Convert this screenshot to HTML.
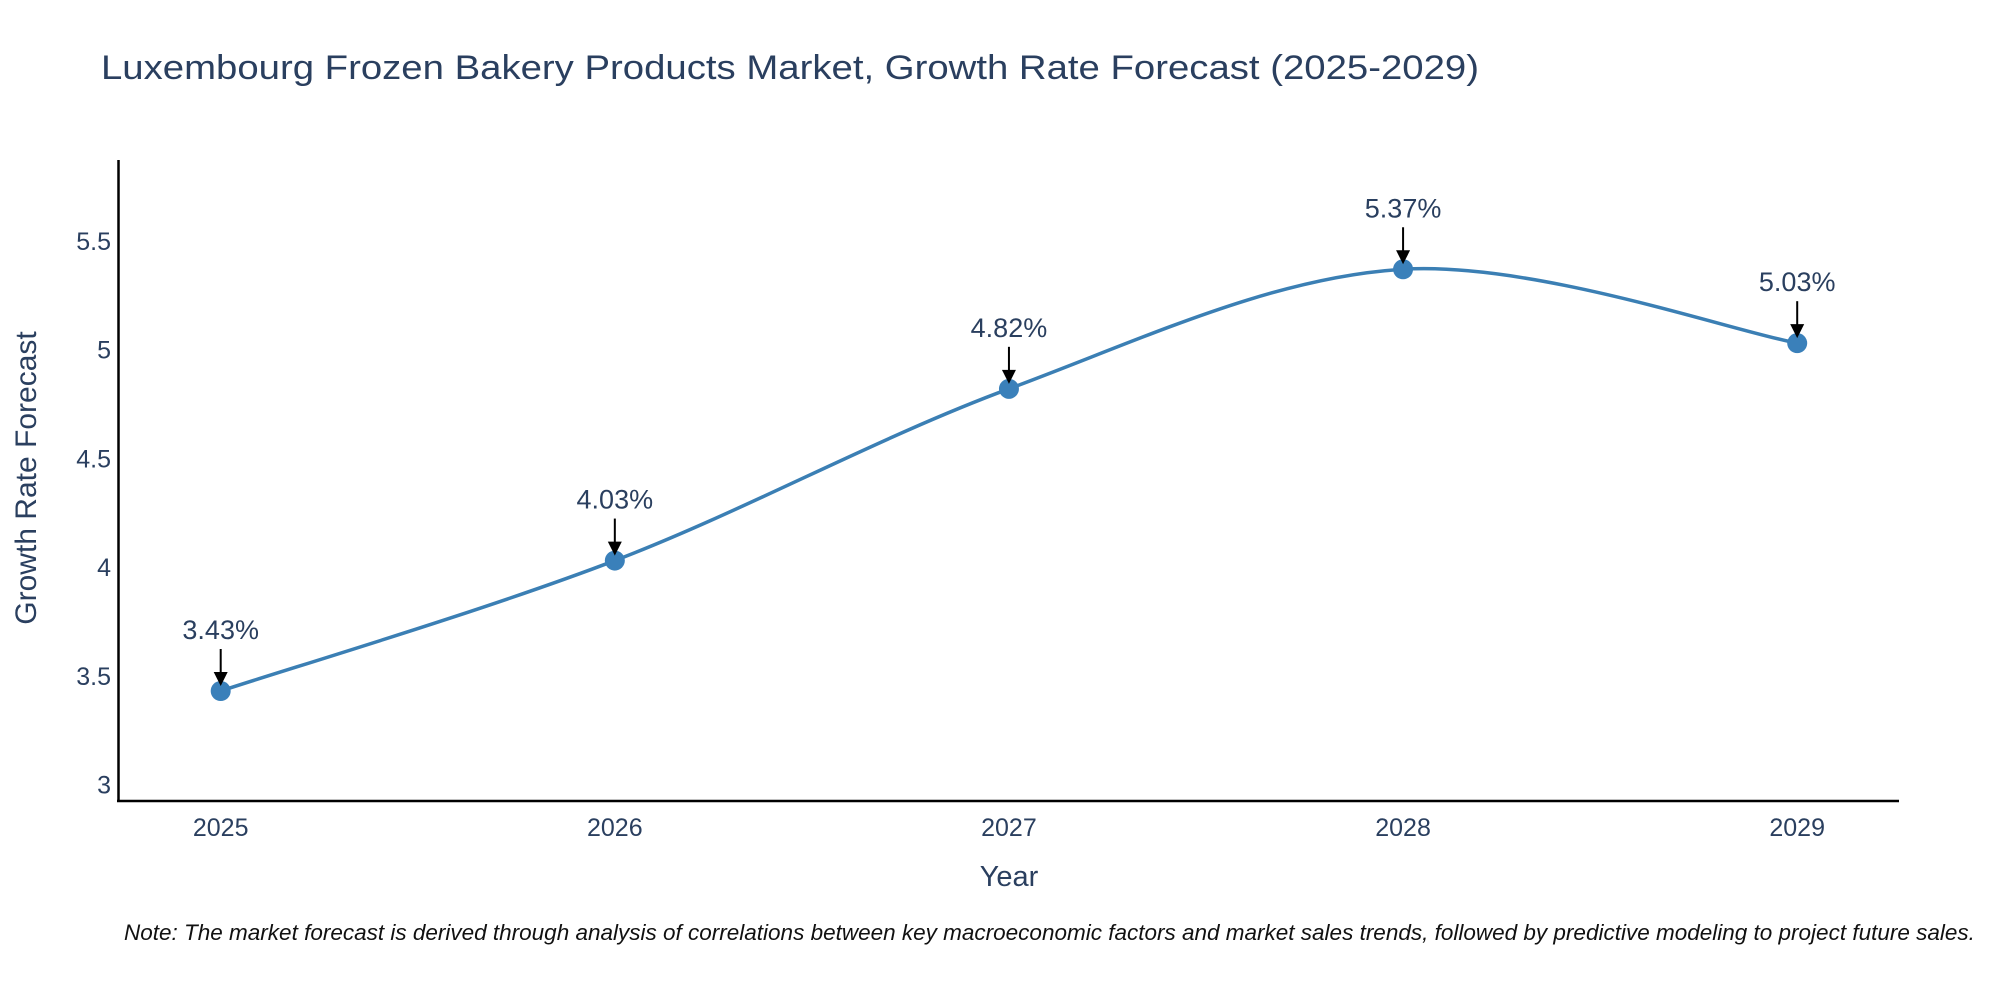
<!DOCTYPE html>
<html><head><meta charset="utf-8"><style>
html,body{margin:0;padding:0;background:#fff}
svg{display:block;font-family:"Liberation Sans",sans-serif}
</style></head><body>
<svg id="chart" width="2000" height="1000" viewBox="0 0 2000 1000">
<rect width="2000" height="1000" fill="#fff"/>
<text x="101" y="79" font-size="34" fill="#2a3f5f" textLength="1378" lengthAdjust="spacingAndGlyphs">Luxembourg Frozen Bakery Products Market, Growth Rate Forecast (2025-2029)</text>
<g id="yticks"></g>
<g id="xticks"></g>
<path id="series-line" fill="none" stroke="#3b7fb4" stroke-width="3.5"/>
<g id="points"></g>
<g id="annots"></g>
<line x1="118.5" y1="160" x2="118.5" y2="802" stroke="#000" stroke-width="2.5"/>
<line x1="117" y1="801" x2="1899" y2="801" stroke="#000" stroke-width="2.5"/>
<text x="1009" y="886" font-size="29" fill="#2a3f5f" text-anchor="middle">Year</text>
<text x="0" y="0" font-size="30" fill="#2a3f5f" text-anchor="middle" transform="translate(36,478) rotate(-90)">Growth Rate Forecast</text>
<text x="124" y="940" font-size="22.5" font-style="italic" fill="#111">Note: The market forecast is derived through analysis of correlations between key macroeconomic factors and market sales trends, followed by predictive modeling to project future sales.</text>
</svg>
<script>
const years = [2025, 2026, 2027, 2028, 2029];
const values = [3.43, 4.03, 4.82, 5.37, 5.03];
const labels = ["3.43%", "4.03%", "4.82%", "5.37%", "5.03%"];
const yTickValues = [3, 3.5, 4, 4.5, 5, 5.5];
const yTickLabels = ["3", "3.5", "4", "4.5", "5", "5.5"];

const NS = "http://www.w3.org/2000/svg";
const xMin = 2025, xMax = 2029, pxL = 220.7, pxR = 1797.2;
const yMin = 2.924, yMax = 5.868, pyB = 801, pyT = 161;
function xs(v){ return pxL + (v - xMin) / (xMax - xMin) * (pxR - pxL); }
function ys(v){ return pyB - (v - yMin) / (yMax - yMin) * (pyB - pyT); }
function mk(tag, attrs, parent){ const e = document.createElementNS(NS, tag); for (const k in attrs) e.setAttribute(k, attrs[k]); parent.appendChild(e); return e; }

const yt = document.getElementById('yticks');
yTickValues.forEach((v, i) => {
  const t = mk('text', {x: 111, y: ys(v) + 9, 'font-size': 25, fill: '#2a3f5f', 'text-anchor': 'end'}, yt);
  
  
  t.textContent = yTickLabels[i];
});
const xt = document.getElementById('xticks');
years.forEach(y => {
  const t = mk('text', {x: xs(y), y: 836, 'font-size': 25, fill: '#2a3f5f', 'text-anchor': 'middle'}, xt);
  
  
  t.textContent = String(y);
});

const pts = years.map((y, i) => [xs(y), ys(values[i])]);
let d = 'M' + pts[0][0] + ',' + pts[0][1];
for (let i = 0; i < pts.length - 1; i++) {
  const p0 = pts[Math.max(0, i - 1)], p1 = pts[i], p2 = pts[i + 1], p3 = pts[Math.min(pts.length - 1, i + 2)];
  const c1 = [p1[0] + (p2[0] - p0[0]) / 6, p1[1] + (p2[1] - p0[1]) / 6];
  const c2 = [p2[0] - (p3[0] - p1[0]) / 6, p2[1] - (p3[1] - p1[1]) / 6];
  d += ' C' + c1[0] + ',' + c1[1] + ' ' + c2[0] + ',' + c2[1] + ' ' + p2[0] + ',' + p2[1];
}
document.getElementById('series-line').setAttribute('d', d);

const pg = document.getElementById('points');
const ag = document.getElementById('annots');
pts.forEach((p, i) => {
  const c = mk('circle', {cx: p[0], cy: p[1], r: 10, fill: '#3a80ba'}, pg);
  
  
  const ln = mk('line', {x1: p[0], y1: p[1] - 42, x2: p[0], y2: p[1] - 16, stroke: '#000', 'stroke-width': 2}, ag);
  
  
  const hd = mk('polygon', {points: (p[0]-7)+','+(p[1]-19)+' '+(p[0]+7)+','+(p[1]-19)+' '+p[0]+','+(p[1]-5), fill: '#000'}, ag);
  
  
  const t = mk('text', {x: p[0], y: p[1] - 52, 'font-size': 27, fill: '#2a3f5f', 'text-anchor': 'middle'}, ag);
  
  
  t.textContent = labels[i];
});
</script>
</body></html>
